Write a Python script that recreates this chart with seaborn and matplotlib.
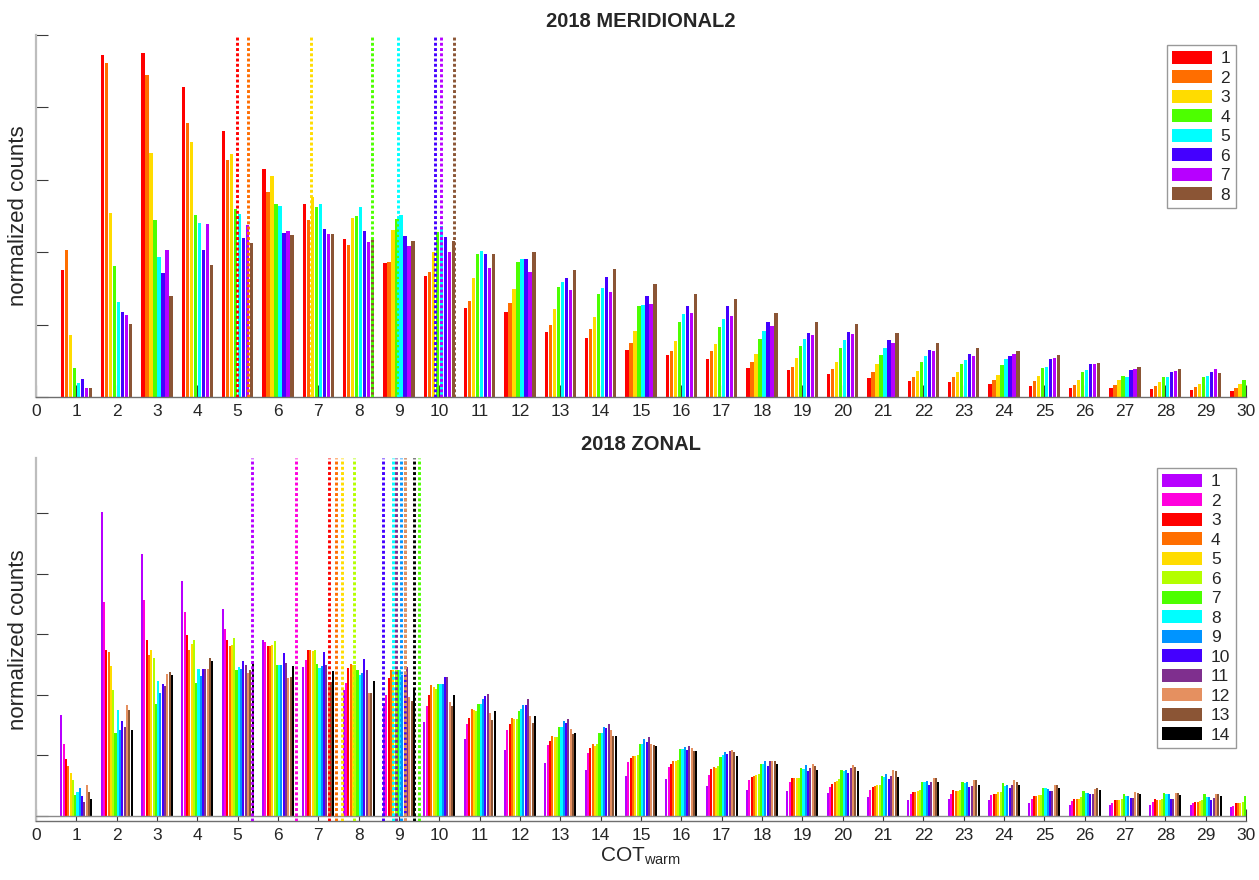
import numpy as np
import pandas as pd
import matplotlib
matplotlib.use("Agg")
import matplotlib.pyplot as plt
import seaborn as sns

# ---------------- data ----------------
bins = list(range(1, 31))

# 2018 MERIDIONAL2 (series 1..8)
m1 = [1.75, 4.72, 4.75, 4.28, 3.67, 3.15, 2.67, 2.18, 1.85, 1.67, 1.23, 1.18, 0.90, 0.82, 0.65, 0.58, 0.52, 0.40, 0.37, 0.32, 0.26, 0.22, 0.21, 0.18, 0.15, 0.13, 0.12, 0.11, 0.10, 0.08]
m2 = [2.03, 4.61, 4.45, 3.78, 3.27, 2.83, 2.45, 2.10, 1.86, 1.72, 1.33, 1.30, 1.00, 0.94, 0.75, 0.63, 0.63, 0.48, 0.42, 0.39, 0.34, 0.28, 0.27, 0.23, 0.22, 0.17, 0.17, 0.15, 0.14, 0.13]
m3 = [0.86, 2.54, 3.37, 3.52, 3.36, 3.05, 2.76, 2.47, 2.31, 2.00, 1.64, 1.49, 1.22, 1.11, 0.91, 0.78, 0.73, 0.59, 0.54, 0.49, 0.45, 0.36, 0.35, 0.31, 0.29, 0.24, 0.24, 0.21, 0.18, 0.18]
m4 = [0.40, 1.81, 2.45, 2.51, 2.60, 2.67, 2.62, 2.50, 2.46, 2.28, 1.97, 1.86, 1.52, 1.42, 1.25, 1.04, 0.97, 0.80, 0.71, 0.68, 0.58, 0.49, 0.46, 0.44, 0.40, 0.34, 0.29, 0.28, 0.27, 0.24]
m5 = [0.19, 1.31, 1.94, 2.41, 2.53, 2.64, 2.67, 2.62, 2.52, 2.36, 2.02, 1.91, 1.59, 1.50, 1.27, 1.15, 1.08, 0.91, 0.80, 0.79, 0.67, 0.57, 0.51, 0.52, 0.41, 0.37, 0.28, 0.28, 0.29, 0.27]
m6 = [0.25, 1.17, 1.71, 2.03, 2.19, 2.26, 2.32, 2.29, 2.22, 2.21, 1.97, 1.91, 1.64, 1.66, 1.40, 1.26, 1.26, 1.03, 0.89, 0.90, 0.79, 0.65, 0.59, 0.57, 0.52, 0.45, 0.37, 0.34, 0.34, 0.32]
m7 = [0.12, 1.13, 2.03, 2.39, 2.38, 2.29, 2.25, 2.14, 2.08, 2.00, 1.78, 1.73, 1.48, 1.45, 1.29, 1.16, 1.12, 0.98, 0.85, 0.87, 0.74, 0.64, 0.57, 0.59, 0.54, 0.46, 0.39, 0.36, 0.38, 0.35]
m8 = [0.12, 1.01, 1.40, 1.83, 2.13, 2.24, 2.25, 2.17, 2.15, 2.15, 1.97, 2.00, 1.75, 1.77, 1.56, 1.42, 1.36, 1.16, 1.04, 1.01, 0.88, 0.74, 0.68, 0.63, 0.58, 0.47, 0.41, 0.38, 0.33, 0.33]
merid_labels = ["1", "2", "3", "4", "5", "6", "7", "8"]
merid_colors = ["#FF0000", "#FF6E00", "#FFDC00", "#4DFF00", "#00FFFF", "#4400FF", "#B700FF", "#8B5535"]
merid_means = [4.98, 5.26, 6.82, 8.33, 8.98, 9.89, 10.04, 10.36]

# 2018 ZONAL (series 1..14)
z1 = [1.66, 5.02, 4.33, 3.87, 3.41, 2.90, 2.46, 2.07, 1.85, 1.54, 1.27, 1.09, 0.87, 0.76, 0.66, 0.61, 0.49, 0.43, 0.41, 0.38, 0.31, 0.26, 0.27, 0.26, 0.21, 0.18, 0.17, 0.18, 0.17, 0.14]
z2 = [1.18, 3.53, 3.56, 3.36, 3.09, 2.87, 2.57, 2.19, 2.00, 1.81, 1.52, 1.41, 1.17, 1.03, 0.89, 0.81, 0.67, 0.59, 0.56, 0.48, 0.43, 0.35, 0.36, 0.34, 0.27, 0.24, 0.20, 0.23, 0.20, 0.16]
z3 = [0.94, 2.74, 2.90, 2.98, 2.90, 2.81, 2.73, 2.44, 2.27, 1.99, 1.62, 1.52, 1.24, 1.12, 0.95, 0.86, 0.77, 0.64, 0.62, 0.52, 0.48, 0.39, 0.42, 0.35, 0.32, 0.27, 0.26, 0.27, 0.22, 0.20]
z4 = [0.82, 2.70, 2.65, 2.74, 2.80, 2.80, 2.73, 2.51, 2.40, 2.15, 1.76, 1.61, 1.32, 1.19, 0.99, 0.90, 0.81, 0.66, 0.62, 0.55, 0.49, 0.39, 0.41, 0.35, 0.33, 0.27, 0.25, 0.25, 0.22, 0.20]
z5 = [0.71, 2.48, 2.74, 2.83, 2.82, 2.82, 2.72, 2.49, 2.40, 2.12, 1.75, 1.59, 1.30, 1.15, 0.98, 0.90, 0.78, 0.67, 0.62, 0.57, 0.50, 0.41, 0.41, 0.39, 0.34, 0.28, 0.25, 0.26, 0.24, 0.20]
z6 = [0.58, 2.07, 2.61, 2.91, 2.94, 2.88, 2.73, 2.49, 2.40, 2.09, 1.73, 1.60, 1.30, 1.18, 1.00, 0.92, 0.82, 0.69, 0.62, 0.60, 0.51, 0.43, 0.42, 0.39, 0.34, 0.30, 0.27, 0.27, 0.26, 0.23]
z7 = [0.34, 1.36, 1.85, 2.19, 2.40, 2.49, 2.50, 2.40, 2.40, 2.17, 1.85, 1.73, 1.46, 1.36, 1.18, 1.10, 0.97, 0.85, 0.78, 0.75, 0.65, 0.55, 0.55, 0.53, 0.46, 0.40, 0.35, 0.37, 0.35, 0.33]
z8 = [0.39, 1.75, 2.22, 2.43, 2.45, 2.49, 2.44, 2.33, 2.41, 2.17, 1.85, 1.76, 1.46, 1.36, 1.18, 1.10, 1.00, 0.86, 0.77, 0.74, 0.64, 0.55, 0.54, 0.49, 0.45, 0.38, 0.33, 0.35, 0.31, 0.30]
z9 = [0.45, 1.42, 2.02, 2.30, 2.42, 2.49, 2.47, 2.35, 2.33, 2.17, 1.93, 1.83, 1.56, 1.47, 1.27, 1.13, 1.05, 0.90, 0.83, 0.76, 0.69, 0.57, 0.55, 0.50, 0.44, 0.38, 0.33, 0.35, 0.31, 0.30]
z10 = [0.33, 1.57, 2.18, 2.43, 2.56, 2.69, 2.71, 2.59, 2.33, 2.29, 1.97, 1.82, 1.53, 1.44, 1.22, 1.08, 1.01, 0.82, 0.73, 0.71, 0.61, 0.51, 0.48, 0.45, 0.40, 0.35, 0.29, 0.28, 0.26, 0.26]
z11 = [0.23, 1.46, 2.14, 2.42, 2.49, 2.52, 2.49, 2.41, 2.46, 2.29, 2.01, 1.93, 1.60, 1.52, 1.30, 1.15, 1.06, 0.91, 0.78, 0.78, 0.65, 0.56, 0.49, 0.50, 0.41, 0.36, 0.29, 0.28, 0.29, 0.28]
z12 = [0.51, 1.82, 2.34, 2.43, 2.36, 2.27, 2.17, 2.03, 1.96, 1.88, 1.69, 1.64, 1.43, 1.41, 1.19, 1.11, 1.08, 0.91, 0.86, 0.83, 0.75, 0.62, 0.59, 0.59, 0.51, 0.44, 0.39, 0.38, 0.36, 0.34]
z13 = [0.39, 1.74, 2.38, 2.61, 2.41, 2.29, 2.20, 2.02, 1.89, 1.81, 1.58, 1.53, 1.34, 1.31, 1.17, 1.07, 1.05, 0.90, 0.82, 0.81, 0.73, 0.62, 0.58, 0.55, 0.51, 0.46, 0.38, 0.38, 0.36, 0.34]
z14 = [0.27, 1.41, 2.33, 2.55, 2.56, 2.48, 2.39, 2.22, 2.11, 2.00, 1.73, 1.64, 1.36, 1.31, 1.15, 1.06, 0.99, 0.85, 0.75, 0.73, 0.64, 0.55, 0.51, 0.51, 0.45, 0.42, 0.35, 0.34, 0.33, 0.32]
zonal_labels = [str(i) for i in range(1, 15)]
zonal_colors = ["#B700FF", "#FF00DD", "#FF0000", "#FF6E00", "#FFDC00", "#B4FF00", "#4DFF00",
                "#00FFFF", "#0094FF", "#4400FF", "#7F2F8E", "#E59060", "#8B5535", "#000000"]
zonal_means = [5.36, 6.45, 7.26, 7.45, 7.59, 7.89, 9.50, 8.86, 9.04, 8.61, 8.93, 9.14, 9.14, 9.37]

xticks = list(range(0, 31))

# ---------------- style ----------------
sns.set_style("white")
plt.rcParams["font.family"] = ["Liberation Sans", "DejaVu Sans"]
plt.rcParams["mathtext.default"] = "regular"

W, H = 1259, 880
fig = plt.figure(figsize=(W / 100, H / 100), dpi=100)
ax1 = fig.add_axes([36 / W, 1 - 397 / H, 1210 / W, 362 / H])
ax2 = fig.add_axes([36 / W, 1 - 821 / H, 1210 / W, 363 / H])


def draw(ax, series, labels, colors, means, ylim, title, gap):
    df = pd.DataFrame({
        "bin": np.tile(bins, len(series)),
        "value": np.concatenate(series),
        "series": np.repeat(labels, len(bins)),
    })
    sns.barplot(data=df, x="bin", y="value", hue="series", hue_order=labels,
                palette=colors, native_scale=True, width=0.8, gap=gap,
                saturation=1, linewidth=0, errorbar=None, ax=ax, legend=True)
    # mean lines (dotted), later series drawn first so earlier appear on top
    for m, c in reversed(list(zip(means, colors))):
        ax.axvline(m, color=c, lw=2.1, linestyle=(0, (1, 0.8)), zorder=4)
    ax.set_xlim(0, 30)
    ax.set_ylim(*ylim)
    ax.set_xticks(xticks)
    ax.set_xticklabels([str(t) for t in xticks])
    ax.set_yticks(range(0, 6))
    ax.set_yticklabels([])
    ax.tick_params(axis="both", which="major", direction="in", length=8.5, width=0.8,
                   color="#3a3a3a", labelsize=12.5, labelcolor="#262626", pad=5,
                   left=True, bottom=True, top=False, right=False)
    for s in ("top", "right"):
        ax.spines[s].set_visible(False)
    ax.spines["left"].set_color("#bdbdbd")
    ax.spines["left"].set_linewidth(1.6)
    ax.spines["bottom"].set_color("#6e6e6e")
    ax.spines["bottom"].set_linewidth(1.0)
    ax.set_ylabel("normalized counts", fontsize=16, color="#262626", labelpad=0)
    ax.set_xlabel("")
    ax.set_title(title, fontsize=14.5, fontweight="bold", pad=6)
    handles, labs = ax.get_legend_handles_labels()
    leg = ax.legend(handles, labs, loc="upper right", frameon=True, fancybox=False,
                    edgecolor="#808080", fontsize=12.5, handlelength=2.3,
                    handleheight=0.8, labelspacing=0.22, borderpad=0.3,
                    handletextpad=0.5, borderaxespad=0.6)
    leg.get_frame().set_linewidth(1.0)
    return ax


draw(ax1, [m1, m2, m3, m4, m5, m6, m7, m8], merid_labels, merid_colors, merid_means,
     (0, 5), "2018 MERIDIONAL2", 0.18)
draw(ax2, [z1, z2, z3, z4, z5, z6, z7, z8, z9, z10, z11, z12, z13, z14],
     zonal_labels, zonal_colors, zonal_means, (-0.09, 5.91), "2018 ZONAL", 0.1)
ax2.axhline(0, color="#8a8a8a", lw=1.0, zorder=3)
ax2.set_xlabel("COT$_{warm}$", fontsize=15, color="#262626", labelpad=2)

fig.savefig("out.png", dpi=100)
